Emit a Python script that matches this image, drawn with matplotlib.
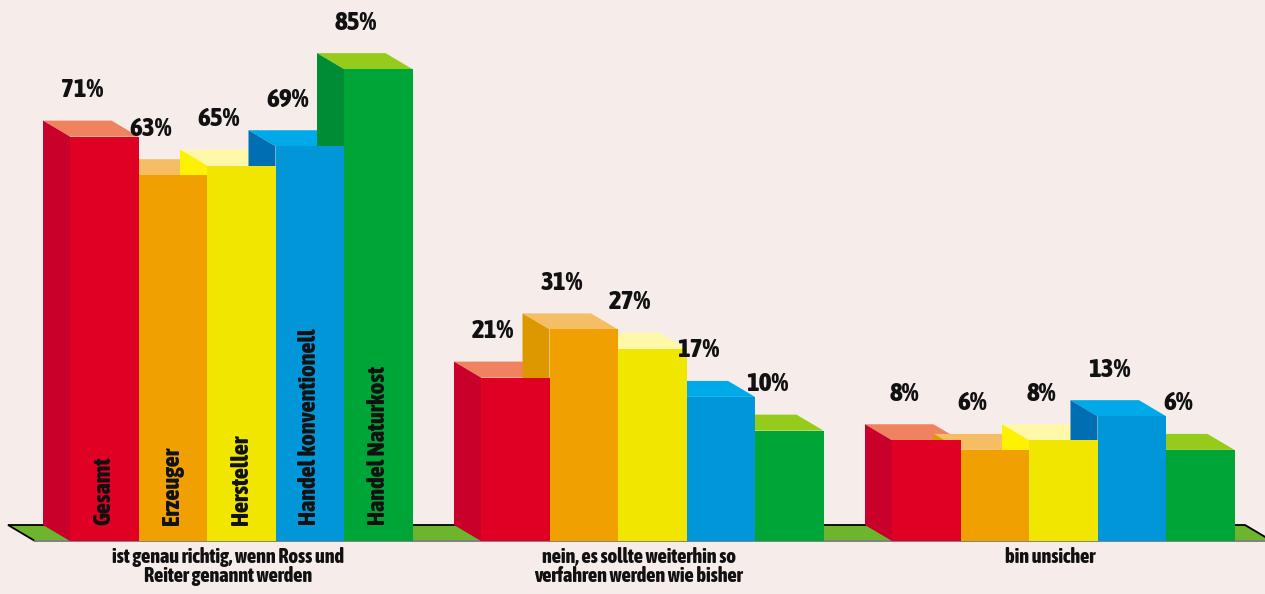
import matplotlib.pyplot as plt
from matplotlib.patches import Polygon
from matplotlib import font_manager

# data
groups = ['ist genau richtig, wenn Ross und\nReiter genannt werden',
          'nein, es sollte weiterhin so\nverfahren werden wie bisher',
          'bin unsicher']
series = ['Gesamt', 'Erzeuger', 'Hersteller', 'Handel konventionell', 'Handel Naturkost']
gesamt = [71, 21, 8]
erzeuger = [63, 31, 6]
hersteller = [65, 27, 8]
handel_konv = [69, 17, 13]
handel_natur = [85, 10, 6]
values = [gesamt, erzeuger, hersteller, handel_konv, handel_natur]

# colours: front, side, top
front = ['#E00024', '#F0A000', '#F0E600', '#0096D8', '#00A538']
side = ['#C8002A', '#DD9800', '#FFF200', '#006EB2', '#008C34']
top = ['#F08260', '#F5BE64', '#FFF8A8', '#00AAE8', '#96CB1C']
bg = '#F6EDEA'

# narrow bold font, whatever is installed
bold_fams = {f.name for f in font_manager.fontManager.ttflist if f.weight in (700, 'bold')}
FONT = ['DejaVu Sans']
for cand in ['Asap Condensed', 'Barlow Condensed', 'Roboto Condensed', 'Liberation Sans Narrow']:
    if cand in bold_fams:
        FONT = [cand, 'DejaVu Sans']
        break

# geometry (pixels -> data units)
PXX = 68.5            # px per bar width
PXY = 4.82            # px per percent
BASE = -12.9          # bars start below zero like in the original
DX = -27 / PXX        # depth offset
DY = 16 / PXY
PITCH = 6

fig = plt.figure(figsize=(12.65, 5.94), dpi=100, facecolor=bg)
ax = fig.add_axes([0, 0, 1, 1])
ax.set_facecolor(bg)
ax.axis('off')
ybot = BASE - 53 / PXY
ax.set_xlim(-70 / PXX, (1265 - 70) / PXX)
ax.set_ylim(ybot, ybot + 594 / PXY)

txt = dict(fontweight=800, family=FONT, color='#111111', zorder=5)

# floor
x0, x1 = (35 - 70) / PXX, (1272 - 70) / PXX
ax.add_patch(Polygon([(x0, BASE), (x1, BASE), (x1 + DX, BASE + DY), (x0 + DX, BASE + DY)],
                     closed=True, facecolor='#6DB52D', edgecolor='black', lw=1.3, zorder=1))
ax.plot([x0, x1], [BASE, BASE], color='#999999', lw=1.2, zorder=1.5)

for g in range(len(groups)):
    # back faces first
    for j, vals in enumerate(values):
        left = g * PITCH + j
        h = vals[g]
        ax.add_patch(Polygon([(left, h), (left + 1, h), (left + 1 + DX, h + DY), (left + DX, h + DY)],
                             closed=True, facecolor=top[j], edgecolor='none', zorder=2))
        ax.add_patch(Polygon([(left, BASE), (left, h), (left + DX, h + DY), (left + DX, BASE + DY)],
                             closed=True, facecolor=side[j], edgecolor='none', zorder=2))
    for j, vals in enumerate(values):
        left = g * PITCH + j
        h = vals[g]
        ax.bar(left, h - BASE, bottom=BASE, width=1, align='edge', color=front[j], zorder=3)
        ax.annotate(f'{h}%', xy=(left, h), xytext=(12 / 1.389, 47 / 1.389),
                    textcoords='offset points', ha='center', va='center', fontsize=19.5, **txt)
        if g == 0:
            ax.text(left + 0.5, BASE + 16 / PXY, series[j], rotation=90, ha='center', va='bottom',
                    fontsize=17.5, **txt)
    cx = g * PITCH + (DX + 5) / 2
    ax.text(cx, ybot + 47 / PXY, groups[g], ha='center', va='top', fontsize=14.5,
            linespacing=0.95, **txt)

fig.savefig('out.png', dpi=100, facecolor=bg)
